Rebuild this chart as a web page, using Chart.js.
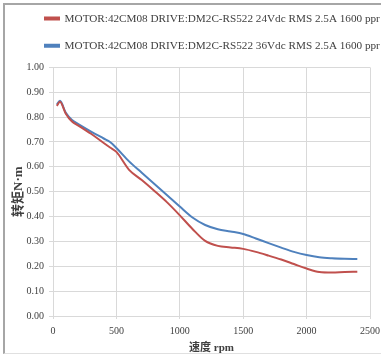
<!DOCTYPE html>
<html>
<head>
<meta charset="utf-8">
<script src="https://cdn.jsdelivr.net/npm/chart.js@4/dist/chart.umd.min.js"></script>
<style>
html,body{margin:0;padding:0;background:#fff;}
#wrap{position:relative;width:386px;height:357px;}
#frame{position:absolute;left:3px;top:3px;width:378px;height:351px;border-top:2px solid #a6a6a6;border-left:2px solid #a6a6a6;border-bottom:1px solid #e0e0e0;box-sizing:border-box;pointer-events:none;}
canvas{position:absolute;left:0;top:0;}
</style>
</head>
<body>
<div id="wrap">
<canvas id="c" width="386" height="357"></canvas>
<div id="frame"></div>
</div>
<script>
const seriesNames = [
  "MOTOR:42CM08 DRIVE:DM2C-RS522 24Vdc RMS 2.5A 1600 ppr",
  "MOTOR:42CM08 DRIVE:DM2C-RS522 36Vdc RMS 2.5A 1600 ppr"
];
const speedRpm = [30, 55, 100, 150, 200, 300, 400, 450, 500, 600, 700, 800, 900, 1000, 1100, 1200, 1300, 1400, 1500, 1600, 1700, 1800, 1900, 2000, 2100, 2200, 2300, 2400];
const torque24V = [0.845, 0.862, 0.815, 0.782, 0.766, 0.733, 0.696, 0.678, 0.660, 0.588, 0.547, 0.503, 0.457, 0.405, 0.350, 0.302, 0.282, 0.276, 0.270, 0.258, 0.243, 0.227, 0.209, 0.191, 0.177, 0.175, 0.177, 0.178];
const torque36V = [0.850, 0.866, 0.818, 0.788, 0.772, 0.742, 0.714, 0.700, 0.676, 0.622, 0.576, 0.531, 0.486, 0.440, 0.396, 0.366, 0.349, 0.340, 0.330, 0.312, 0.293, 0.275, 0.258, 0.245, 0.236, 0.232, 0.230, 0.229];
const xTicks = [0, 500, 1000, 1500, 2000, 2500];
const yTicks = [0, 0.1, 0.2, 0.3, 0.4, 0.5, 0.6, 0.7, 0.8, 0.9, 1.0];
const xTitle = "速度 rpm";
const yTitle = "转矩N·m";

const RED = "#c0504d", BLUE = "#4f81bd";
const SERIF = "'Liberation Serif', 'Noto Sans CJK SC', serif";
const GRID = "#d9d9d9";

function pts(ys){ return speedRpm.map((x,i)=>({x:x,y:ys[i]})); }

const legendPos = {
  id: 'legendPos',
  afterLayout(chart){
    const lg = chart.legend;
    const pad = lg.options.labels.padding;
    lg.left = 45 - pad;
    lg.right = 386;
    lg.top = -3;
  }
};

new Chart(document.getElementById('c'), {
  type: 'line',
  data: {
    datasets: [
      {label: seriesNames[0], data: pts(torque24V), borderColor: RED, backgroundColor: RED, borderWidth: 2, pointRadius: 0, cubicInterpolationMode: 'monotone'},
      {label: seriesNames[1], data: pts(torque36V), borderColor: BLUE, backgroundColor: BLUE, borderWidth: 2, pointRadius: 0, cubicInterpolationMode: 'monotone'}
    ]
  },
  options: {
    responsive: false,
    animation: false,
    devicePixelRatio: 1,
    layout: {padding: {top: 3, left: 0, right: 16, bottom: 0}},
    plugins: {
      legend: {
        display: true,
        position: 'top',
        align: 'start',
        labels: {
          font: {family: SERIF, size: 11.2},
          color: '#404040',
          boxWidth: 14,
          boxHeight: 2,
          padding: 16
        }
      },
      tooltip: {enabled: false}
    },
    scales: {
      x: {
        type: 'linear',
        min: 0, max: 2500,
        afterBuildTicks: (s) => { s.ticks = xTicks.map(v=>({value:v})); },
        afterFit: (s) => { s.height = 41; },
        ticks: {font: {family: SERIF, size: 10}, color: '#404040', padding: 6, maxRotation: 0, callback: (v) => String(v)},
        grid: {color: GRID, tickLength: 3, drawTicks: true},
        border: {color: GRID},
        title: {display: true, text: xTitle, font: {family: SERIF, size: 11, weight: 'bold'}, color: '#404040', padding: {top: 2, bottom: 2}}
      },
      y: {
        min: 0, max: 1,
        afterBuildTicks: (s) => { s.ticks = yTicks.map(v=>({value:v})); },
        afterFit: (s) => { s.width = 53; },
        ticks: {font: {family: SERIF, size: 10}, color: '#404040', padding: 5, callback: (v) => Number(v).toFixed(2)},
        grid: {color: GRID, tickLength: 4, drawTicks: true},
        border: {color: GRID},
        title: {display: true, text: yTitle, font: {family: SERIF, size: 13, weight: 'bold'}, color: '#404040', padding: {top: 11, bottom: 2}}
      }
    }
  },
  plugins: [legendPos]
});
</script>
</body>
</html>
